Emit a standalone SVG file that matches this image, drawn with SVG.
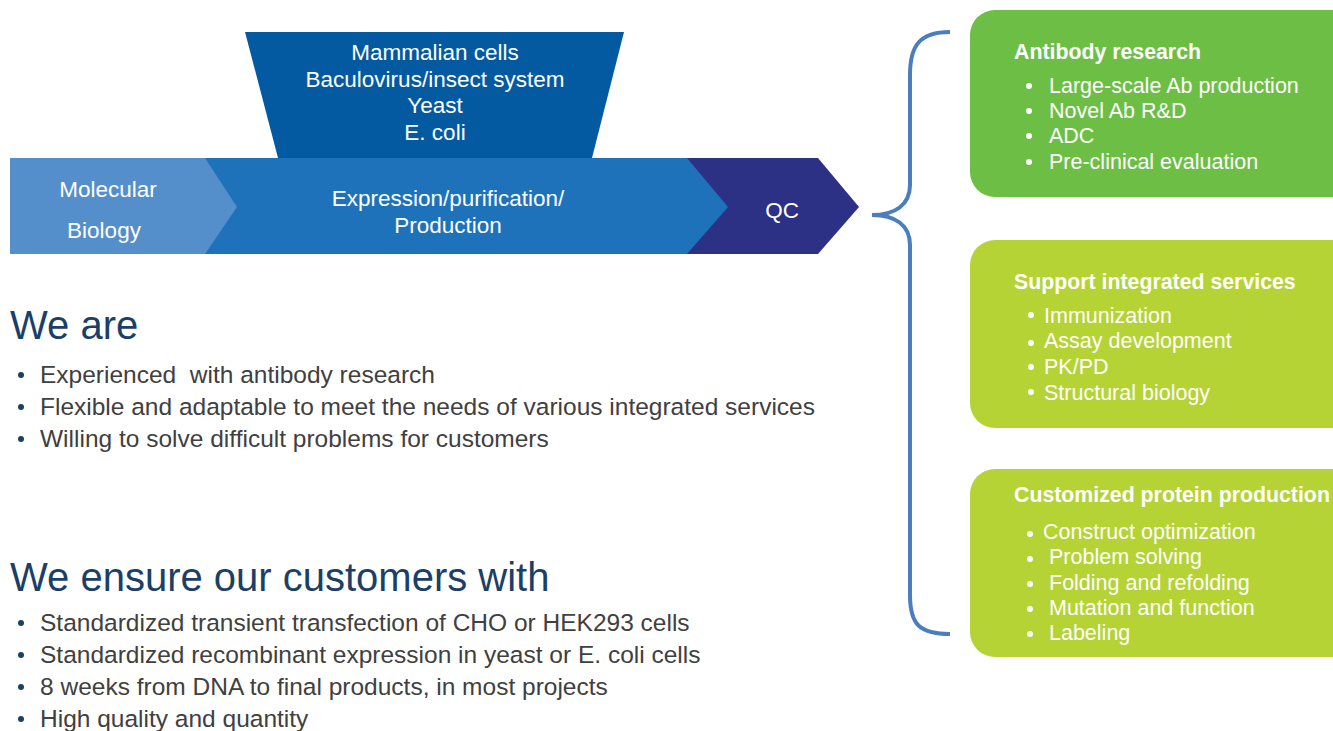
<svg xmlns="http://www.w3.org/2000/svg" width="1333" height="731" viewBox="0 0 1333 731">
<style>
text{font-family:"Liberation Sans",Arial,sans-serif}
.wc{fill:#ffffff;font-size:22.5px;text-anchor:middle}
.h{fill:#ffffff;font-size:21.3px;font-weight:bold}
.it{fill:#ffffff;font-size:21.5px}
.title{fill:#1B3F66;font-size:40px}
.bl{fill:#404040;font-size:24.5px}
.bd{fill:#1B3F66}
.bw{fill:#ffffff}
</style>
<rect width="1333" height="731" fill="#ffffff"/>
<g id="sources">
<polygon points="245,32 624,32 592,158 278,158" fill="#045AA0"/>
<text class="wc" x="435" y="60">Mammalian cells</text>
<text class="wc" x="435" y="87">Baculovirus/insect system</text>
<text class="wc" x="435" y="113">Yeast</text>
<text class="wc" x="435" y="140">E. coli</text>
</g>
<g id="expression">
<polygon points="200,158 735,158 735,254 200,254" fill="#1E72BA"/>
<text class="wc" x="448" y="206">Expression/purification/</text>
<text class="wc" x="448" y="233">Production</text>
</g>
<g id="molecular">
<polygon points="10,158 205,158 237,207 205,254 10,254" fill="#558FCB"/>
<text class="wc" x="108" y="197">Molecular</text>
<text class="wc" x="104" y="238">Biology</text>
</g>
<g id="qc">
<polygon points="687,158 818,158 859,207 818,254 687,254 728,207" fill="#2C3186"/>
<text class="wc" x="782" y="218">QC</text>
</g>
<g id="connectors">
<path d="M950,32 C920,32 910,45 910,75 L910,185 C910,205 895,215 872,215 C895,215 910,225 910,245 L910,595 C910,625 920,634 950,634" fill="none" stroke="#4A7EBF" stroke-width="4"/>
</g>
<g id="antibody">
<rect x="970" y="10" width="390" height="187" rx="25" fill="#6DBE45"/>
<text class="h" x="1014" y="59">Antibody research</text>
<circle class="bw" cx="1029" cy="86" r="3"/><text class="it" x="1049" y="93">Large-scale Ab production</text>
<circle class="bw" cx="1029" cy="111" r="3"/><text class="it" x="1049" y="118">Novel Ab R&amp;D</text>
<circle class="bw" cx="1029" cy="136" r="3"/><text class="it" x="1049" y="143">ADC</text>
<circle class="bw" cx="1029" cy="162" r="3"/><text class="it" x="1049" y="169">Pre-clinical evaluation</text>
</g>
<g id="support">
<rect x="970" y="240" width="390" height="188" rx="25" fill="#B5D334"/>
<text class="h" x="1014" y="289">Support integrated services</text>
<circle class="bw" cx="1031" cy="315" r="3"/><text class="it" x="1044" y="323">Immunization</text>
<circle class="bw" cx="1031" cy="343" r="3"/><text class="it" x="1044" y="348">Assay development</text>
<circle class="bw" cx="1031" cy="367" r="3"/><text class="it" x="1044" y="374">PK/PD</text>
<circle class="bw" cx="1031" cy="392" r="3"/><text class="it" x="1044" y="400">Structural biology</text>
</g>
<g id="customized">
<rect x="970" y="469" width="390" height="188" rx="25" fill="#B5D334"/>
<text class="h" x="1014" y="502">Customized protein production</text>
<circle class="bw" cx="1030" cy="534" r="3"/><text class="it" x="1043" y="539">Construct optimization</text>
<circle class="bw" cx="1030" cy="559" r="3"/><text class="it" x="1049" y="564">Problem solving</text>
<circle class="bw" cx="1030" cy="584" r="3"/><text class="it" x="1049" y="590">Folding and refolding</text>
<circle class="bw" cx="1030" cy="609" r="3"/><text class="it" x="1049" y="615">Mutation and function</text>
<circle class="bw" cx="1030" cy="634" r="3"/><text class="it" x="1049" y="640">Labeling</text>
</g>
<g id="we-are">
<text class="title" x="10" y="339">We are</text>
<circle class="bd" cx="21" cy="375" r="3"/><text class="bl" x="40" y="383" xml:space="preserve">Experienced  with antibody research</text>
<circle class="bd" cx="21" cy="407" r="3"/><text class="bl" x="40" y="415">Flexible and adaptable to meet the needs of various integrated services</text>
<circle class="bd" cx="21" cy="439" r="3"/><text class="bl" x="40" y="447">Willing to solve difficult problems for customers</text>
</g>
<g id="we-ensure">
<text class="title" x="10" y="591">We ensure our customers with</text>
<circle class="bd" cx="21" cy="623" r="3"/><text class="bl" x="40" y="631">Standardized transient transfection of CHO or HEK293 cells</text>
<circle class="bd" cx="21" cy="655" r="3"/><text class="bl" x="40" y="663">Standardized recombinant expression in yeast or E. coli cells</text>
<circle class="bd" cx="21" cy="687" r="3"/><text class="bl" x="40" y="695">8 weeks from DNA to final products, in most projects</text>
<circle class="bd" cx="21" cy="719" r="3"/><text class="bl" x="40" y="727">High quality and quantity</text>
</g>
</svg>
